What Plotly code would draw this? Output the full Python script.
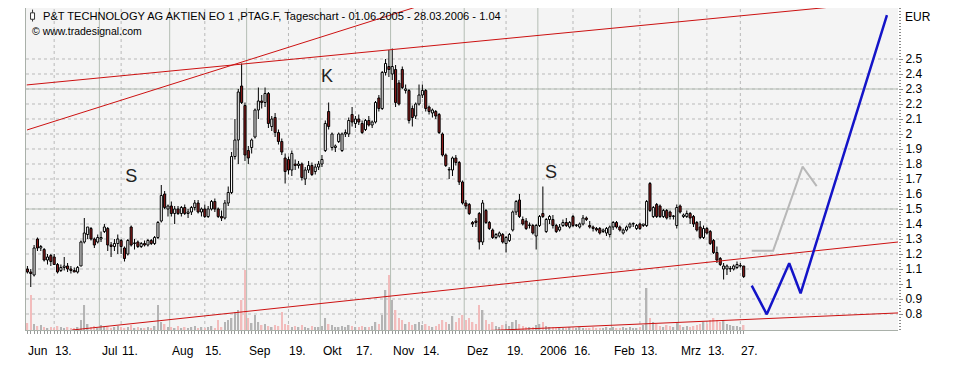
import plotly.graph_objects as go

# ---------------- data (trading-day index 0 = 01.06.2005 ... 214 = 28.03.2006) ----------------
opens = [1.10,1.08,1.06,1.30,1.24,1.23,1.16,1.19,1.18,1.13,1.09,1.11,1.12,1.10,1.09,1.08,1.12,1.28,1.33,1.37,1.30,1.28,
         1.30,1.35,1.37,1.26,1.25,1.27,1.29,1.24,1.20,1.38,1.27,1.28,1.25,1.27,1.26,1.29,1.27,1.31,1.42,1.60,1.50,
         1.52,1.47,1.50,1.47,1.51,1.47,1.48,1.51,1.54,1.48,1.50,1.45,1.50,1.55,1.50,1.45,1.44,1.54,1.61,1.85,1.96,2.32,2.19,
         1.89,1.91,1.98,2.16,2.22,2.21,2.27,2.05,2.11,2.01,1.95,1.84,1.83,1.76,1.80,1.79,1.80,1.70,1.76,1.79,1.75,1.78,
         1.80,1.89,2.15,1.91,1.91,1.95,1.89,2.00,2.00,2.13,2.07,2.10,2.07,2.03,2.09,2.06,2.08,2.24,2.17,2.41,2.45,
         2.40,2.43,2.34,2.43,2.29,2.29,2.17,2.12,2.20,2.26,2.29,2.18,2.14,2.15,2.13,2.00,1.86,1.76,1.76,1.84,1.81,1.68,
         1.54,1.53,1.41,1.42,1.47,1.28,1.49,1.41,1.36,1.31,1.32,1.33,1.27,1.29,1.36,1.48,1.56,1.43,1.42,1.39,1.39,1.32,
         1.39,1.47,1.35,1.43,1.43,1.39,1.36,1.39,1.41,1.38,1.45,1.39,1.38,1.40,1.44,1.39,1.38,1.37,1.37,1.35,1.34,1.33,
         1.38,1.41,1.38,1.34,1.36,1.38,1.40,1.37,1.40,1.39,1.39,1.67,1.45,1.53,1.52,1.45,1.49,1.48,1.45,1.39,
         1.52,1.45,1.45,1.47,1.45,1.41,1.38,1.31,1.37,1.35,1.29,1.21,1.17,1.10,1.10,1.10,1.10,1.11,1.12,1.12]
highs = [1.12,1.10,1.26,1.31,1.26,1.24,1.20,1.20,1.20,1.14,1.13,1.18,1.14,1.12,1.11,1.12,1.29,1.44,1.38,1.38,1.31,1.33,
         1.35,1.40,1.38,1.28,1.30,1.33,1.30,1.25,1.30,1.39,1.30,1.29,1.28,1.29,1.30,1.30,1.32,1.42,1.66,1.62,1.53,
         1.55,1.52,1.52,1.52,1.53,1.50,1.52,1.56,1.56,1.51,1.53,1.52,1.56,1.57,1.51,1.49,1.56,1.65,1.88,2.10,2.30,2.47,2.21,
         1.92,1.97,2.17,2.31,2.26,2.31,2.28,2.12,2.14,2.03,1.97,1.87,1.85,1.89,1.83,1.82,1.81,1.78,1.82,1.81,1.80,1.82,
         1.86,2.09,2.21,2.01,1.93,2.01,2.01,2.03,2.11,2.18,2.12,2.13,2.09,2.10,2.12,2.09,2.22,2.26,2.42,2.50,2.56,
         2.57,2.46,2.36,2.45,2.33,2.30,2.19,2.21,2.33,2.33,2.30,2.19,2.17,2.16,2.14,2.01,1.87,1.78,1.85,1.86,1.82,1.69,
         1.56,1.54,1.42,1.44,1.48,1.56,1.50,1.42,1.37,1.34,1.35,1.34,1.32,1.34,1.49,1.56,1.60,1.45,1.44,1.41,1.40,1.40,
         1.46,1.65,1.44,1.46,1.46,1.40,1.40,1.43,1.44,1.42,1.46,1.40,1.41,1.46,1.45,1.42,1.39,1.38,1.38,1.37,1.38,1.39,
         1.42,1.42,1.39,1.37,1.39,1.41,1.41,1.40,1.41,1.40,1.56,1.68,1.52,1.54,1.53,1.50,1.50,1.49,1.46,1.53,
         1.53,1.47,1.49,1.48,1.46,1.42,1.42,1.39,1.38,1.36,1.30,1.25,1.18,1.14,1.13,1.12,1.13,1.15,1.14,1.12]
lows = [1.07,0.98,1.05,1.22,1.22,1.15,1.13,1.12,1.13,1.07,1.08,1.09,1.08,1.07,1.08,1.07,1.12,1.27,1.30,1.29,1.24,1.27,
        1.28,1.34,1.22,1.18,1.22,1.20,1.20,1.15,1.19,1.25,1.23,1.24,1.24,1.25,1.25,1.26,1.26,1.30,1.41,1.50,1.45,
        1.45,1.40,1.46,1.45,1.46,1.44,1.46,1.49,1.47,1.45,1.44,1.44,1.49,1.48,1.44,1.42,1.43,1.52,1.60,1.83,1.80,2.20,1.82,
        1.80,1.87,1.97,2.10,2.17,2.18,2.04,2.02,1.98,1.93,1.86,1.67,1.73,1.72,1.76,1.77,1.69,1.66,1.74,1.72,1.73,1.76,
        1.78,1.88,2.03,1.89,1.88,1.94,1.88,1.98,1.98,2.05,2.04,2.06,2.00,2.02,2.05,2.04,2.07,2.15,2.16,2.39,2.38,
        2.36,2.18,2.19,2.30,2.27,2.07,2.05,2.10,2.19,2.24,2.15,2.13,2.11,2.10,2.00,1.85,1.78,1.70,1.72,1.79,1.66,1.53,
        1.50,1.46,1.38,1.38,1.23,1.26,1.40,1.36,1.30,1.30,1.31,1.27,1.21,1.28,1.35,1.46,1.44,1.39,1.36,1.37,1.33,1.23,
        1.38,1.44,1.34,1.40,1.37,1.34,1.35,1.38,1.38,1.37,1.38,1.38,1.37,1.39,1.42,1.37,1.35,1.35,1.33,1.34,1.32,1.31,
        1.36,1.37,1.35,1.33,1.35,1.37,1.38,1.36,1.36,1.38,1.38,1.48,1.44,1.44,1.44,1.44,1.43,1.43,1.43,1.37,
        1.47,1.44,1.44,1.40,1.38,1.35,1.30,1.30,1.33,1.26,1.20,1.14,1.12,1.03,1.06,1.08,1.09,1.10,1.11,1.04]
closes = [1.08,1.07,1.24,1.24,1.25,1.16,1.18,1.15,1.13,1.08,1.11,1.12,1.10,1.09,1.08,1.11,1.28,1.34,1.38,1.30,1.26,1.31,
          1.31,1.38,1.26,1.25,1.27,1.30,1.25,1.17,1.29,1.26,1.27,1.25,1.27,1.26,1.29,1.27,1.31,1.41,1.59,1.51,1.52,
          1.47,1.50,1.47,1.51,1.47,1.48,1.51,1.54,1.48,1.50,1.45,1.50,1.55,1.50,1.45,1.44,1.54,1.61,1.85,1.96,2.28,2.21,1.86,
          1.84,1.96,2.16,2.22,2.21,2.27,2.07,2.10,2.01,1.95,1.88,1.75,1.76,1.87,1.79,1.80,1.71,1.76,1.79,1.73,1.78,1.80,
          1.83,2.07,2.05,2.00,1.92,2.00,2.00,2.01,2.09,2.08,2.10,2.08,2.01,2.09,2.06,2.08,2.21,2.17,2.41,2.47,2.43,
          2.45,2.21,2.20,2.31,2.30,2.09,2.11,2.20,2.26,2.29,2.17,2.15,2.16,2.12,2.01,1.86,1.79,1.76,1.84,1.81,1.68,1.54,
          1.52,1.47,1.40,1.41,1.28,1.54,1.41,1.37,1.31,1.33,1.34,1.28,1.31,1.33,1.48,1.55,1.45,1.40,1.37,1.39,1.34,1.39,
          1.45,1.45,1.43,1.45,1.39,1.35,1.38,1.41,1.39,1.41,1.39,1.39,1.40,1.44,1.43,1.38,1.37,1.36,1.34,1.36,1.37,1.38,
          1.41,1.38,1.36,1.36,1.38,1.40,1.40,1.39,1.37,1.40,1.55,1.49,1.51,1.45,1.45,1.49,1.44,1.45,1.45,1.51,
          1.48,1.46,1.47,1.44,1.40,1.36,1.31,1.37,1.34,1.27,1.21,1.16,1.13,1.12,1.12,1.10,1.12,1.13,1.12,1.05]
volume_k = [7,35,6,4,5,3,2,3,2,4,3,2,3,2,2,3,10,25,6,3,4,2,
            5,3,4,2,3,4,3,2,3,5,2,3,2,2,3,2,4,25,8,6,3,
            3,2,4,2,3,2,3,4,2,3,2,3,4,2,10,3,8,10,12,18,20,30,60,
            12,7,15,8,5,6,4,3,5,4,18,6,5,3,4,3,5,3,2,4,3,3,
            4,12,6,5,3,3,4,3,5,4,3,3,4,3,3,4,8,6,15,40,55,
            30,20,12,10,6,8,5,6,8,5,6,4,3,4,6,10,8,6,14,8,12,15,
            10,12,8,6,25,20,10,6,8,4,3,5,6,4,8,10,6,4,3,3,3,5,
            6,8,4,3,3,2,3,2,2,3,2,2,3,2,2,2,3,2,2,2,3,2,
            3,2,2,3,2,3,2,2,3,5,42,12,8,6,4,3,5,4,3,8,
            5,3,4,3,4,5,6,8,6,10,12,10,8,10,6,5,4,4,3,5]
day_index = list(range(len(closes)))

# x-axis labels (trading-day index, text)
label_pos = [0, 8, 22, 28, 43, 53, 66, 78, 88, 98, 109, 118, 131, 143, 153, 163, 175, 183, 195, 203, 213]
label_text = ["Jun", "13.", "Jul", "11.", "Aug", "15.", "Sep", "19.", "Okt", "17.", "Nov", "14.",
              "Dez", "19.", "2006", "16.", "Feb", "13.", "Mrz", "13.", "27."]
month_starts = [22, 43, 66, 88, 109, 131, 153, 175, 195]
mid_marks = [8, 28, 53, 78, 98, 118, 143, 163, 183, 203, 213]

y_ticks = [0.8, 0.9, 1.0, 1.1, 1.2, 1.3, 1.4, 1.5, 1.6, 1.7, 1.8, 1.9, 2.0, 2.1, 2.2, 2.3, 2.4, 2.5]
y_tick_text = ["0.8", "0.9", "1", "1.1", "1.2", "1.3", "1.4", "1.5", "1.6", "1.7", "1.8", "1.9",
               "2", "2.1", "2.2", "2.3", "2.4", "2.5"]
solid_levels = [1.5, 2.3]

# drawn trend lines (index, price)
trend_a_x = [-0.2, 240.0]
trend_a_y = [2.327, 2.846]
trend_b_x = [-0.1, 118.0]
trend_b_y = [2.027, 2.86]
trend_c_x = [13.3, 260.1]
trend_c_y = [0.693, 1.28]
trend_d_x = [138.2, 260.1]
trend_d_y = [0.69, 0.807]
gray_path_x = [216.4, 222.8, 231.6, 235.8]
gray_path_y = [1.222, 1.222, 1.782, 1.653]
blue_path_x = [216.4, 220.9, 227.6, 231.0, 256.8]
blue_path_y = [0.989, 0.798, 1.138, 0.938, 2.793]
pattern_x = [31.0, 89.5, 156.4]
pattern_y = [1.707, 2.38, 1.74]
pattern_text = ["S", "K", "S"]

# ---------------- figure ----------------
FONT = "Arial, Liberation Sans, sans-serif"
X_RANGE = [-0.42, 260.1]
Y_RANGE = [0.6933, 2.84]
UP_FILL, DOWN_FILL = "white", "#8e1b1b"

is_up = [c >= o for o, c in zip(opens, closes)]
vol_colors = ["#b4b4b4" if u else "#f2bcbc" for u in is_up]
body_base = [min(o, c) for o, c in zip(opens, closes)]
body_height = [max(abs(c - o), 0.004) for o, c in zip(opens, closes)]
body_colors = [UP_FILL if u else DOWN_FILL for u in is_up]

# wick segments: high -> top of body, bottom of body -> low
wick_x, wick_y = [], []
for i, o, h, l, c in zip(day_index, opens, highs, lows, closes):
    wick_x += [i, i, None, i, i, None]
    wick_y += [h, max(o, c), None, min(o, c), l, None]

fig = go.Figure()
fig.add_trace(go.Bar(x=day_index, y=volume_k, marker_color=vol_colors, marker_line_width=0,
                     width=0.45, yaxis="y", showlegend=False, hoverinfo="skip"))
fig.add_trace(go.Bar(x=day_index, y=body_height, base=body_base, yaxis="y2", width=0.62,
                     marker=dict(color=body_colors, line=dict(color="black", width=1)),
                     showlegend=False, hoverinfo="skip"))
fig.add_trace(go.Scatter(x=wick_x, y=wick_y, mode="lines", yaxis="y2", connectgaps=False,
                         line=dict(color="black", width=1), showlegend=False, hoverinfo="skip"))

for tx, ty in [(trend_a_x, trend_a_y), (trend_b_x, trend_b_y), (trend_c_x, trend_c_y), (trend_d_x, trend_d_y)]:
    fig.add_trace(go.Scatter(x=tx, y=ty, mode="lines", yaxis="y2",
                             line=dict(color="#cc1111", width=1), showlegend=False, hoverinfo="skip"))
fig.add_trace(go.Scatter(x=gray_path_x, y=gray_path_y, mode="lines", yaxis="y2",
                         line=dict(color="#b8b8b8", width=2), showlegend=False))
fig.add_trace(go.Scatter(x=blue_path_x, y=blue_path_y, mode="lines", yaxis="y2",
                         line=dict(color="#1414c8", width=2.5), showlegend=False))
fig.add_trace(go.Scatter(x=pattern_x, y=pattern_y, mode="text", text=pattern_text, yaxis="y2",
                         textfont=dict(family=FONT, size=18, color="#222222"), showlegend=False))

shapes = []
for v in y_ticks:
    shapes.append(dict(type="line", xref="paper", x0=0, x1=1, yref="y2", y0=v, y1=v,
                       line=dict(color="#b9b9b9", width=1, dash="dot"), layer="below"))
for v in solid_levels:
    shapes.append(dict(type="line", xref="paper", x0=0, x1=1, yref="y2", y0=v, y1=v,
                       line=dict(color="#b4bdb4", width=1), layer="below"))
for p in month_starts:
    shapes.append(dict(type="line", xref="x", x0=p - 0.5, x1=p - 0.5, yref="paper", y0=0, y1=1,
                       line=dict(color="#b4bdb4", width=1), layer="below"))
for p in mid_marks:
    shapes.append(dict(type="line", xref="x", x0=p, x1=p, yref="paper", y0=0, y1=1,
                       line=dict(color="#b9b9b9", width=1, dash="dot"), layer="below"))
# small chart icon before the title
shapes.append(dict(type="line", xref="paper", yref="paper", x0=0.0075, x1=0.0075, y0=0.958, y1=0.995,
                   line=dict(color="#333333", width=1)))
shapes.append(dict(type="rect", xref="paper", yref="paper", x0=0.0052, x1=0.0098, y0=0.965, y1=0.985,
                   line=dict(color="#333333", width=1), fillcolor="white"))

annotations = []
for p, t in zip(label_pos, label_text):
    annotations.append(dict(x=p - 0.4, y=0, xref="x", yref="paper", text=t, showarrow=False,
                            xanchor="left", yanchor="top", yshift=-12,
                            font=dict(family=FONT, size=12, color="black")))
annotations.append(dict(x=0.0175, y=0.975, xref="paper", yref="paper", showarrow=False,
                        xanchor="left", yanchor="middle",
                        text="P&T TECHNOLOGY AG AKTIEN EO 1 ,PTAG.F, Tageschart - 01.06.2005 - 28.03.2006 - 1.04",
                        font=dict(family=FONT, size=11.1, color="black")))
annotations.append(dict(x=0.005, y=0.928, xref="paper", yref="paper", showarrow=False,
                        xanchor="left", yanchor="middle", text="© www.tradesignal.com",
                        font=dict(family=FONT, size=10.5, color="black")))
annotations.append(dict(x=1.0, y=0.972, xref="paper", yref="paper", showarrow=False,
                        xanchor="left", yanchor="middle", xshift=5, text="EUR",
                        font=dict(family=FONT, size=12, color="black")))

# page body has an 8px margin, so the figure is sized to fit the 958x365 window
fig.update_layout(
    width=950, height=357,
    margin=dict(l=18, r=60, t=0, b=35),
    paper_bgcolor="white", plot_bgcolor="#f4f4f4",
    showlegend=False, barmode="overlay",
    xaxis=dict(range=X_RANGE, showgrid=False, zeroline=False,
               showline=True, mirror=True, linecolor="#a9b0a9", linewidth=1,
               tickmode="array", tickvals=day_index, ticks="outside", ticklen=3,
               tickcolor="#9a9a9a", tickwidth=1, showticklabels=False),
    yaxis=dict(range=[0, 322], visible=True, showgrid=False, zeroline=False, showticklabels=False,
               showline=True, linecolor="#a9b0a9", ticks=""),
    yaxis2=dict(range=Y_RANGE, overlaying="y", side="right", showgrid=False, zeroline=False,
                tickmode="array", tickvals=y_ticks, ticktext=y_tick_text,
                ticks="outside", ticklen=4, tickcolor="#8a8a8a",
                minor=dict(dtick=0.02, ticks="outside", ticklen=2, tickcolor="#8a8a8a"),
                showline=False,
                tickfont=dict(family=FONT, size=12, color="black")),
    shapes=shapes, annotations=annotations,
    hovermode=False,
)

fig.write_html("out.html")
